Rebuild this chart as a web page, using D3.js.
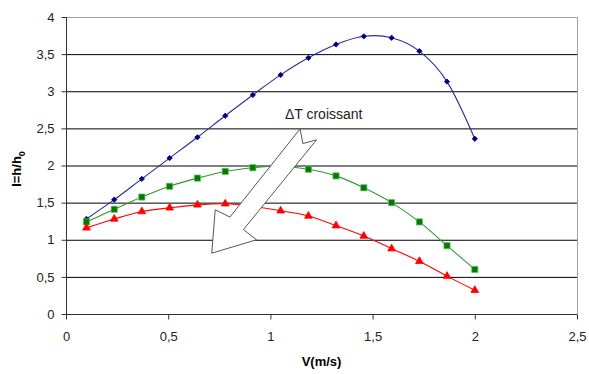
<!DOCTYPE html>
<html>
<head>
<meta charset="utf-8">
<script src="https://cdn.jsdelivr.net/npm/d3@7"></script>
<style>
  body { margin: 0; background: #fff; }
  svg { display: block; font-family: "Liberation Sans", Arial, sans-serif; }
</style>
</head>
<body>
<svg width="589" height="374"></svg>
<script>
// vitesse (m/s)
var speeds = [0.1, 0.236, 0.371, 0.507, 0.643, 0.779, 0.914, 1.05, 1.186, 1.321, 1.457, 1.593, 1.729, 1.864, 2.0];
// I = h/h0 pour trois deltaT
var serieBlue  = [1.28, 1.54, 1.82, 2.10, 2.38, 2.67, 2.95, 3.22, 3.45, 3.63, 3.74, 3.72, 3.54, 3.13, 2.36];
var serieGreen = [1.24, 1.41, 1.575, 1.72, 1.83, 1.92, 1.97, 1.99, 1.95, 1.86, 1.70, 1.50, 1.24, 0.92, 0.60];
var serieRed   = [1.16, 1.28, 1.38, 1.43, 1.47, 1.485, 1.45, 1.39, 1.32, 1.19, 1.05, 0.88, 0.71, 0.51, 0.32];
var xTicks = [0, 0.5, 1, 1.5, 2, 2.5];
var yTicks = [0, 0.5, 1, 1.5, 2, 2.5, 3, 3.5, 4];
// fleche "deltaT croissant" (en unites du graphe)
var arrowPts = [[1.145, 2.493], [1.159, 2.295], [1.226, 2.346], [0.868, 1.137], [0.932, 1.0],
                [0.713, 0.819], [0.730, 1.403], [0.802, 1.306]];

function draw(){
    var svg = d3.select("svg");
    var pLeft = 66, pRight = 577, pTop = 17, pBottom = 314;

    var x = d3.scaleLinear().domain([0, 2.5]).range([pLeft, pRight]);
    var y = d3.scaleLinear().domain([0, 4]).range([pBottom, pTop]);

    var fmt = function(d){ return String(d).replace(".", ","); };

    // grille horizontale
    svg.append("g")
        .selectAll("line")
        .data(yTicks.filter(function(d){ return d > 0; }))
        .enter().append("line")
        .attr("x1", pLeft).attr("x2", pRight)
        .attr("y1", function(d){ return y(d) + 0.5; })
        .attr("y2", function(d){ return y(d) + 0.5; })
        .attr("stroke", function(d){ return d === 4 ? "#a0a0a0" : "#000"; })
        .attr("stroke-width", 1);

    // bord droit
    svg.append("line")
        .attr("x1", pRight + 0.5).attr("x2", pRight + 0.5)
        .attr("y1", pTop).attr("y2", pBottom)
        .attr("stroke", "#a0a0a0");

    /* --------- axes --------- */
    var gx = svg.append("g")
        .attr("transform", "translate(0," + (pBottom + 0.5) + ")")
        .call(d3.axisBottom(x).tickValues(xTicks).tickFormat(fmt).tickSize(5).tickPadding(12));
    var gy = svg.append("g")
        .attr("transform", "translate(" + (pLeft + 0.5) + ",0)")
        .call(d3.axisLeft(y).tickValues(yTicks).tickFormat(fmt).tickSize(5).tickPadding(7));

    [gx, gy].forEach(function(g){
        g.selectAll("line").attr("stroke", "#333");
        g.selectAll("text").attr("font-size", 13).attr("fill", "#222")
            .attr("font-family", "'Liberation Sans', Arial, sans-serif");
    });
    gx.select(".domain").attr("stroke", "#333").attr("d", "M" + (pLeft - 0.5) + ",0H" + pRight);
    gy.select(".domain").attr("stroke", "#333").attr("d", "M0," + pBottom + "V" + pTop);

    // titres des axes
    svg.append("text")
        .attr("x", (pLeft + pRight) / 2)
        .attr("y", 366)
        .attr("text-anchor", "middle")
        .attr("font-size", 13)
        .attr("font-weight", "bold")
        .text("V(m/s)");

    var yl = svg.append("text")
        .attr("transform", "translate(21,169) rotate(-90)")
        .attr("text-anchor", "middle")
        .attr("font-size", 13)
        .attr("font-weight", "bold");
    yl.append("tspan").text("I=h/h");
    yl.append("tspan").attr("dy", 4).attr("font-size", 9).text("0");

    /* --------- courbes --------- */
    var series = [
        {vals: serieBlue,  line: "#2a2aa0", fill: "#000080", stroke: "#000080", sym: d3.symbolSquare,   size: 14, rot: 45},
        {vals: serieGreen, line: "#2e9a2e", fill: "#007a00", stroke: "#5fbf5f", sym: d3.symbolSquare,   size: 38, rot: 0},
        {vals: serieRed,   line: "#ff0000", fill: "#ff0000", stroke: "#ff0000", sym: d3.symbolTriangle, size: 26, rot: 0}
    ];

    var line = d3.line()
        .x(function(d){ return x(d[0]); })
        .y(function(d){ return y(d[1]); })
        .curve(d3.curveCardinal.tension(0));

    series.forEach(function(s){
        var pts = speeds.map(function(v, i){ return [v, s.vals[i]]; });
        svg.append("path")
            .attr("d", line(pts))
            .attr("fill", "none")
            .attr("stroke", s.line)
            .attr("stroke-width", 1.1);
        svg.append("g")
            .selectAll("path")
            .data(pts)
            .enter().append("path")
            .attr("transform", function(d){
                return "translate(" + x(d[0]) + "," + y(d[1]) + ") rotate(" + s.rot + ")";
            })
            .attr("d", d3.symbol().type(s.sym).size(s.size))
            .attr("fill", s.fill)
            .attr("stroke", s.stroke)
            .attr("stroke-width", 0.8);
    });

    /* --------- fleche + texte --------- */
    svg.append("path")
        .attr("d", "M" + arrowPts.map(function(p){ return x(p[0]) + "," + y(p[1]); }).join("L") + "Z")
        .attr("fill", "#fff")
        .attr("stroke", "#555")
        .attr("stroke-width", 1);

    svg.append("text")
        .attr("x", x(1.071))
        .attr("y", y(2.63))
        .attr("font-size", 14)
        .attr("fill", "#222")
        .text("\u0394T croissant");
}

draw();
</script>
</body>
</html>
